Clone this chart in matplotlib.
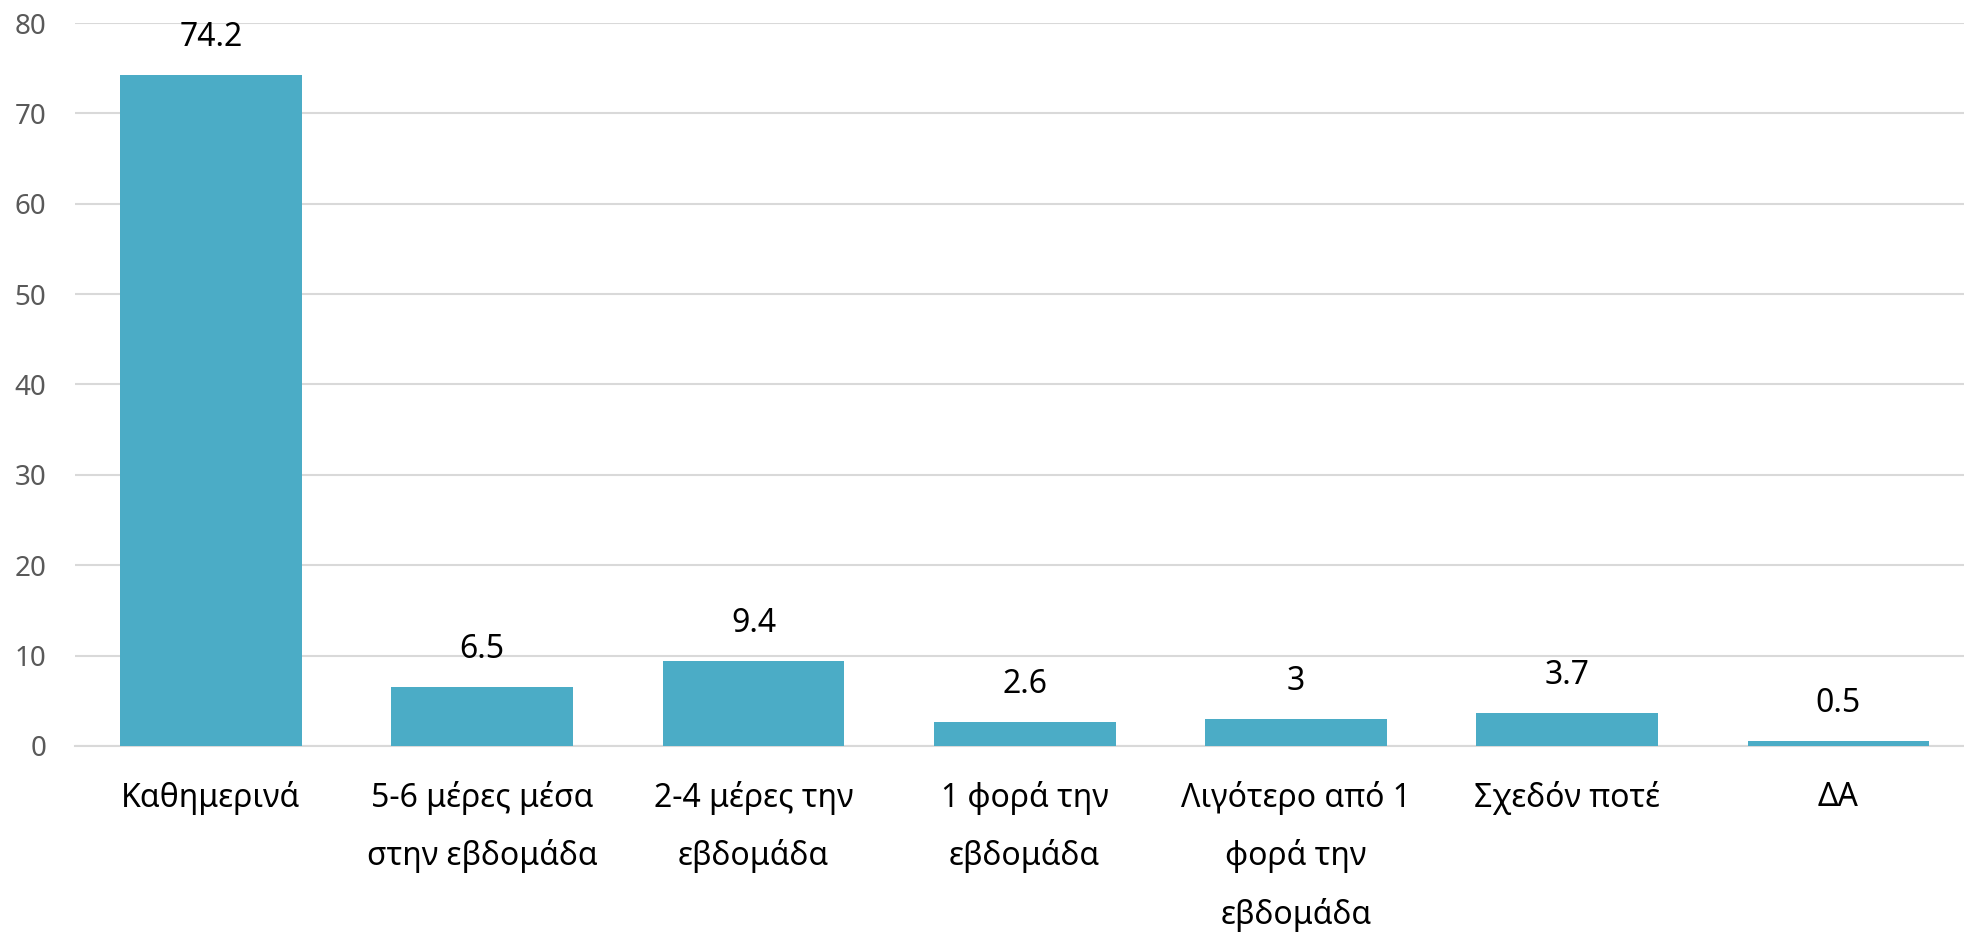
import matplotlib
matplotlib.use("Agg")
import matplotlib.pyplot as plt

plt.rcParams['font.family'] = ['Noto Sans', 'DejaVu Sans']

# συχνότητα - ποσοστά %
categories = [
    "Καθημερινά",
    "5-6 μέρες μέσα\nστην εβδομάδα",
    "2-4 μέρες την\nεβδομάδα",
    "1 φορά την\nεβδομάδα",
    "Λιγότερο από 1\nφορά την\nεβδομάδα",
    "Σχεδόν ποτέ",
    "ΔΑ",
]
values = [74.2, 6.5, 9.4, 2.6, 3, 3.7, 0.5]
value_labels = ["74.2", "6.5", "9.4", "2.6", "3", "3.7", "0.5"]
yticks = [0, 10, 20, 30, 40, 50, 60, 70, 80]

fig = plt.figure(figsize=(19.64, 9.32), dpi=100)
ax = fig.add_axes([0.0384, 0.1996, 0.9667, 0.7757])

x = list(range(len(categories)))
bars = ax.bar(x, values, width=0.67, color="#4BACC6", zorder=3)

for xi, v, lab in zip(x, values, value_labels):
    ax.annotate(lab, (xi, v), xytext=(0, 27), textcoords="offset points",
                ha="center", va="center", fontsize=23, color="black")

ax.set_xlim(-0.5, len(categories) - 0.5)
ax.set_ylim(0, 80)
ax.set_yticks(yticks)
ax.yaxis.grid(True, color="#D9D9D9", linewidth=1.5, zorder=0)
ax.set_axisbelow(True)

ax.set_xticks(x)
ax.set_xticklabels(categories, fontsize=23, color="black", linespacing=1.95, va="top")
ax.tick_params(axis="x", length=0, pad=25)
ax.tick_params(axis="y", length=0, pad=21, labelsize=20, labelcolor="#595959")

for s in ["top", "right", "left"]:
    ax.spines[s].set_visible(False)
ax.spines["bottom"].set_color("#D9D9D9")
ax.spines["bottom"].set_linewidth(1.5)

fig.savefig("out.png", dpi=100)
